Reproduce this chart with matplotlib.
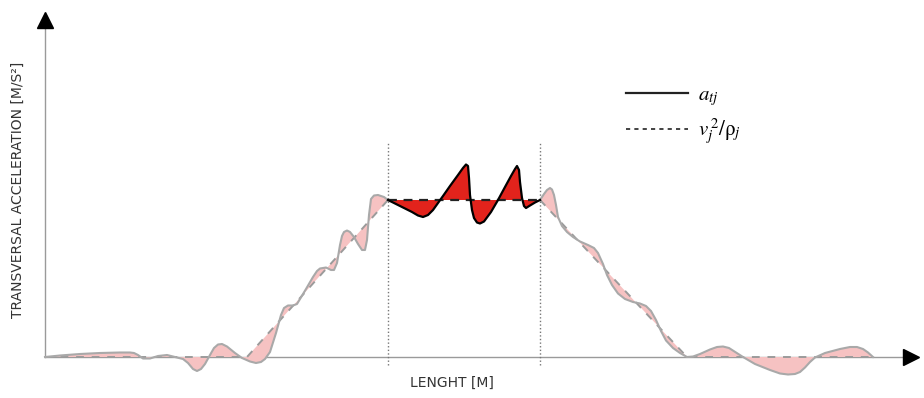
import matplotlib
matplotlib.use("Agg")
import matplotlib.pyplot as plt
from matplotlib.lines import Line2D
import numpy as np

plt.rcParams['mathtext.fontset'] = 'stix'

# ---- data (length units, acceleration units; schematic) ----
# a_tj  (actual transversal acceleration) : left / middle (highlighted) / right parts
left_x = [0, 15, 35, 55, 75, 85, 89, 93, 98, 105, 113, 122, 130, 138, 143, 148, 152, 156, 160, 165,
          169, 173, 177, 182, 190, 197, 205, 211, 216, 220, 225, 231, 236, 239, 243, 248, 252, 255,
          261, 268, 272, 275, 281, 286, 289, 292, 295, 297, 299, 302, 305, 309, 313, 317, 320, 322,
          324, 326, 329, 333, 339, 343]
left_a = [0, 1.5, 3, 4, 4.5, 4.5, 4, 2, -1.5, -1.5, 1, 2, 0, -2, -6, -12, -14, -12, -7, 2,
          9, 12.5, 13, 10.5, 4, -1, -4.5, -6, -5, -2, 5, 24, 42, 49, 51.5, 51.5, 53, 58,
          68, 80, 86, 88.5, 89.5, 87, 87, 94, 112, 121, 125, 126.5, 125, 120, 113, 107, 107, 117,
          142, 158, 161.5, 162, 160, 157]

mid_x = [343, 355, 367, 373, 378, 383, 388, 393, 398, 405, 413, 418, 421, 423, 424, 425, 427, 429,
         432, 435, 439, 446, 453, 460, 466, 470, 472, 474, 475, 477, 479, 481, 485, 490, 495]
mid_a = [157, 151, 145, 141.5, 140, 142, 147, 154, 161, 171, 182, 189, 192.5, 191, 179, 162, 147, 139,
         134.5, 133.5, 135.5, 145, 157, 170, 181, 188, 191, 187, 175, 159, 151, 149, 151.5, 154.5, 157]

right_x = [495, 499, 502, 505, 507, 509, 511, 513, 517, 522, 528, 535, 543, 549, 553, 558, 562, 567,
           573, 580, 588, 595, 601, 606, 611, 616, 621, 628, 635, 642, 648, 655, 665, 672, 678, 684,
           691, 698, 710, 725, 735, 743, 750, 755, 760, 765, 770, 780, 795, 805, 812, 818, 823, 828]
right_a = [157, 163, 167, 169, 167.5, 162, 152, 140, 131, 125, 120, 115.5, 112, 109, 104, 93, 82, 72,
           63.5, 58, 55, 53.5, 51, 46, 37, 26, 16.5, 9, 4, 0, 0.5, 3, 7.5, 10, 10.5, 9,
           4.5, 0, -7, -13, -16.5, -17.5, -17, -15, -10.5, -5, -0.5, 4, 8, 10, 10, 8, 4.5, 0]

# v_j^2 / rho_j  (reference curve), same three parts
ref_left_x, ref_left_y = [0, 202, 343], [0, 0, 157]
ref_mid_x, ref_mid_y = [343, 495], [157, 157]
ref_right_x, ref_right_y = [495, 642, 828], [157, 0, 0]

# section limits (dotted verticals)
section_x = [343, 495]

xlabel = "LENGHT [M]"
ylabel = "TRANSVERSAL ACCELERATION [M/S²]"
legend_labels = [r"$a_{tj}$", r"$v_j^{\,2}/\mathrm{\rho}_j$"]

# ---- styles ----
GRAY = "#a9a9a9"
PINK = "#f6c2c2"
RED = "#e2231c"
AX = "#9a9a9a"

fig = plt.figure(figsize=(9.24, 3.98), dpi=100)
ax = fig.add_axes([0, 0, 1, 1])
ax.set_xlim(-45, 879)
ax.set_ylim(-41, 357)
ax.axis("off")

def band(x, a, rx, ry, fc):
    px = np.concatenate([np.asarray(x, float), np.asarray(rx, float)[::-1]])
    py = np.concatenate([np.asarray(a, float), np.asarray(ry, float)[::-1]])
    ax.fill(px, py, facecolor=fc, edgecolor="none", zorder=1)

# axes lines with arrowheads
ax.plot([0, 866], [0, 0], color=AX, lw=1.0, zorder=0)
ax.plot([0, 0], [0, 335], color=AX, lw=1.0, zorder=0)
ax.plot([866], [0], marker=">", color="black", markersize=11, zorder=5, clip_on=False)
ax.plot([0], [337], marker="^", color="black", markersize=11, zorder=5, clip_on=False)

# section limits
for sx in section_x:
    ax.plot([sx, sx], [-8, 214], color="#777777", lw=1.0, linestyle=(0, (1, 1.6)), zorder=2)

# fills
band(left_x, left_a, ref_left_x, ref_left_y, PINK)
band(right_x, right_a, ref_right_x, ref_right_y, PINK)
band(mid_x, mid_a, ref_mid_x, ref_mid_y, RED)

# reference dashed curve
for rx, ry in [(ref_left_x, ref_left_y), (ref_right_x, ref_right_y)]:
    ax.plot(rx, ry, color="#9b9b9b", lw=1.4, linestyle=(0, (4, 4)), zorder=2)
ax.plot(ref_mid_x, ref_mid_y, color="#222222", lw=1.6, linestyle=(0, (4, 3)), zorder=3)

# acceleration curve
for x, a in [(left_x, left_a), (right_x, right_a)]:
    ax.plot(x, a, color=GRAY, lw=1.5, solid_joinstyle="round", zorder=3)
ax.plot(mid_x, mid_a, color="black", lw=1.6, solid_joinstyle="round", zorder=4)

# labels
ax.text(407, -26, xlabel, ha="center", va="center", fontsize=10, color="#333333")
ax.text(-27, 167, ylabel, ha="center", va="center", rotation=90, fontsize=10, color="#333333")

# legend
handles = [Line2D([], [], color="#222222", lw=1.6),
           Line2D([], [], color="#222222", lw=1.2, linestyle=(0, (2.5, 2.5)))]
leg = ax.legend(handles, legend_labels, loc="upper left", bbox_to_anchor=(0.677, 0.787),
                frameon=False, fontsize=15, handlelength=3.0, handletextpad=0.5,
                labelspacing=0.41, borderpad=0, borderaxespad=0)

fig.savefig("out.png", dpi=100)
